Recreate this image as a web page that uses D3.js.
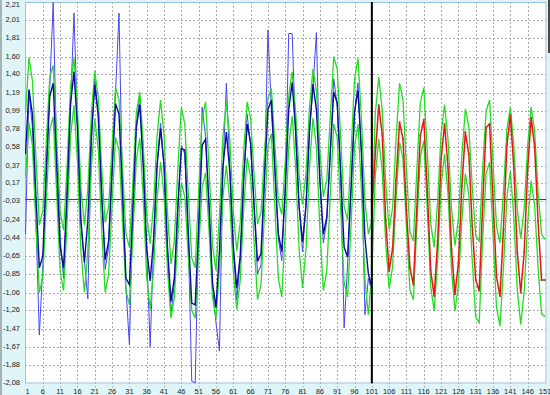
<!DOCTYPE html>
<html>
<head>
<meta charset="utf-8">
<script src="https://cdn.jsdelivr.net/npm/d3@7"></script>
<style>
  html, body { margin: 0; padding: 0; background: #e0f5f7; }
  svg { display: block; }
  text { font-family: "Liberation Sans Narrow", "Arial Narrow", "Liberation Sans", Arial, sans-serif; font-size: 7.5px; fill: #222; }
</style>
</head>
<body>
<div id="chart"></div>
<script>
// series oscillation chart: history (x 1..101) + forecast with bands (x 101..151)
const W = 550, H = 395;

const xTicks = [1, 6, 11, 16, 21, 26, 31, 36, 41, 46, 51, 56, 61, 66, 71, 76,
  81, 86, 91, 96, 101, 106, 111, 116, 121, 126, 131, 136, 141, 146, 151];
const yTickLabels = ["2,21", "2,01", "1,81", "1,60", "1,40", "1,19", "0,99", "0,78",
  "0,58", "0,37", "0,17", "-0,03", "-0,24", "-0,44", "-0,65", "-0,85", "-1,06",
  "-1,26", "-1,47", "-1,67", "-1,88", "-2,08"];

// actual values, x = 1..101 (light blue)
const actual = [
  -0.40, 1.19, 0.80, -0.25, -1.54, -0.75, 0.30, 1.25, 2.21, 0.50,
  -0.45, -0.90, 0.10, 1.05, 2.09, 0.85, -0.30, -0.70, -1.13, 0.60,
  1.35, 0.95, 0.10, -0.80, -0.55, 0.35, 1.20, 2.09, 0.10, -1.00,
  -1.65, -0.10, 0.85, 1.15, 0.40, -0.60, -1.67, -0.50, 0.40, 0.85,
  0.35, -0.60, -1.30, -0.95, -0.05, 0.60, 0.50, -0.45, -2.06, -2.08,
  -0.30, 1.03, 0.70, -0.10, -1.00, -1.40, -1.72, 0.30, 1.30, 0.35,
  -0.55, -1.15, -0.70, 0.20, 0.95, 0.60, -0.10, -0.85, -0.75, 0.20,
  1.90, 1.00, 0.30, -0.45, -0.70, 0.10, 1.86, 1.86, 0.70, -0.10,
  -0.60, -0.05, 0.75, 1.25, 1.87, 0.20, -0.50, -0.25, 0.50, 1.35,
  1.05, 0.30, -1.46, -0.75, 0.10, 0.95, 1.30, 0.50, -1.31, -0.90,
  -1.05
];

// model output, x = 1..101 (dark blue)
const fitted = [
  0.50, 1.23, 0.95, 0.04, -0.78, -0.65, 0.30, 1.15, 1.30, 0.38,
  -0.54, -0.78, 0.04, 1.06, 1.43, 0.79, -0.24, -0.72, -0.25, 0.70,
  1.28, 0.94, 0.02, -0.69, -0.48, 0.31, 1.07, 0.95, 0.07, -0.90,
  -0.97, -0.12, 0.80, 1.06, 0.37, -0.56, -0.93, -0.45, 0.37, 0.79,
  0.38, -0.55, -1.16, -0.89, -0.10, 0.56, 0.55, -0.39, -1.18, -1.20,
  -0.33, 0.60, 0.67, -0.08, -0.95, -1.23, -0.59, 0.35, 0.75, 0.30,
  -0.54, -1.01, -0.65, 0.22, 0.84, 0.63, -0.08, -0.71, -0.62, 0.23,
  1.00, 1.11, 0.35, -0.40, -0.60, 0.11, 1.00, 1.31, 0.77, -0.09,
  -0.49, -0.08, 0.77, 1.29, 1.00, 0.21, -0.40, -0.21, 0.52, 1.20,
  1.08, 0.29, -0.55, -0.66, 0.13, 0.98, 1.22, 0.52, -0.44, -0.85,
  -1.00
];

// upper band, x = 1..151 (green)
const upper = [
  0.96, 1.59, 1.33, 0.47, -0.30, -0.14, 0.63, 1.37, 1.50, 0.68,
  -0.15, -0.36, 0.36, 1.26, 1.58, 1.02, 0.12, -0.30, 0.11, 0.94,
  1.44, 1.14, 0.34, -0.27, -0.09, 0.59, 1.25, 1.11, 0.36, -0.40,
  -0.55, 0.18, 0.97, 1.20, 0.61, -0.19, -0.51, -0.06, 0.71, 1.11,
  0.72, -0.16, -0.74, -0.47, 0.35, 1.03, 0.84, 0.05, -0.67, -0.78,
  0.09, 0.91, 1.09, 0.34, -0.53, -0.81, -0.20, 0.70, 1.09, 0.66,
  -0.14, -0.59, -0.27, 0.53, 1.09, 0.90, 0.27, -0.29, -0.15, 0.50,
  1.13, 1.24, 0.61, -0.02, -0.18, 0.41, 1.16, 1.43, 0.98, 0.27,
  -0.07, 0.29, 1.02, 1.46, 1.21, 0.54, 0.02, 0.21, 0.92, 1.60,
  1.46, 0.69, -0.09, -0.24, 0.52, 1.34, 1.58, 0.90, -0.03, -0.40,
  -0.25, 0.96, 1.37, 1.00, 0.19, -0.35, -0.10, 0.67, 1.30, 1.11,
  0.33, -0.38, -0.48, 0.33, 1.08, 1.25, 0.54, -0.28, -0.55, -0.03,
  0.73, 1.06, 0.66, -0.11, -0.53, -0.23, 0.49, 1.01, 0.81, 0.13,
  -0.42, -0.48, 0.34, 0.99, 1.11, 0.40, -0.32, -0.50, 0.07, 0.78,
  1.03, 0.59, -0.12, -0.45, -0.11, 0.60, 1.03, 0.77, 0.08, -0.40,
  -0.46
];

// lower band, x = 1..151 (green)
const lower = [
  0.24, 0.86, 0.60, -0.28, -1.06, -0.88, -0.04, 0.78, 0.92, 0.05,
  -0.82, -1.04, -0.27, 0.70, 1.05, 0.42, -0.59, -1.06, -0.60, 0.33,
  0.90, 0.56, -0.36, -1.06, -0.85, -0.07, 0.69, 0.55, -0.24, -1.04,
  -1.20, -0.41, 0.44, 0.68, 0.01, -0.89, -1.25, -0.79, 0.00, 0.41,
  0.04, -0.80, -1.35, -1.11, -0.41, 0.18, 0.02, -0.65, -1.26, -1.35,
  -0.58, 0.13, 0.29, -0.36, -1.11, -1.35, -0.80, 0.02, 0.37, -0.04,
  -0.82, -1.25, -0.92, -0.11, 0.46, 0.24, -0.49, -1.14, -0.97, -0.17,
  0.60, 0.73, -0.09, -0.90, -1.11, -0.36, 0.59, 0.93, 0.35, -0.57,
  -1.01, -0.56, 0.35, 0.91, 0.57, -0.34, -1.04, -0.81, 0.03, 0.84,
  0.69, -0.12, -0.95, -1.11, -0.30, 0.59, 0.84, 0.10, -0.91, -1.31,
  -0.85, 0.26, 0.67, 0.31, -0.49, -1.02, -0.77, 0.00, 0.63, 0.45,
  -0.33, -1.03, -1.14, -0.30, 0.47, 0.65, -0.11, -0.99, -1.27, -0.70,
  0.14, 0.50, 0.05, -0.80, -1.27, -0.97, -0.24, 0.28, 0.05, -0.71,
  -1.34, -1.40, -0.46, 0.28, 0.41, -0.41, -1.23, -1.44, -0.79, 0.02,
  0.31, -0.21, -1.03, -1.42, -1.04, -0.27, 0.20, -0.07, -0.78, -1.30,
  -1.33
];

// forecast, x = 101..151 (red)
const forecastStart = 101;
const forecast = [
  -0.15, 0.50, 1.05, 0.72, -0.24, -0.82, -0.56, 0.21, 0.86, 0.67,
  -0.13, -0.78, -0.97, -0.10, 0.71, 0.89, 0.11, -0.81, -1.10, -0.48,
  0.44, 0.84, 0.35, -0.57, -1.08, -0.73, 0.14, 0.75, 0.50, -0.31,
  -0.92, -1.04, -0.07, 0.80, 0.84, -0.02, -0.88, -1.10, -0.35, 0.60,
  0.94, 0.34, -0.61, -1.06, -0.60, 0.34, 0.91, 0.59, -0.26, -0.92,
  -0.92
];

const svg = d3.select("#chart").append("svg").attr("width", W).attr("height", H);

// outer frame bits
svg.append("rect").attr("width", W).attr("height", H).attr("fill", "#e0f5f7");
svg.append("rect").attr("x", 0).attr("y", 0).attr("width", 2).attr("height", H).attr("fill", "#a6b3b4");
svg.append("rect").attr("x", 548).attr("y", 0).attr("width", 2).attr("height", 53).attr("fill", "#4a4a4a");

const x = d3.scaleLinear().domain([1, 151]).range([25.5, 545]);
const y = d3.scaleLinear().domain([-2.08, 2.21]).range([383, 2.5]);
const yVal = s => +s.replace(",", ".");

const pL = 25, pR = 546.5, pT = 2, pB = 383.5;

svg.append("rect")
  .attr("x", pL).attr("y", pT)
  .attr("width", pR - pL).attr("height", pB - pT)
  .attr("fill", "#fff");

svg.append("clipPath").attr("id", "clip")
  .append("rect").attr("x", pL).attr("y", pT)
  .attr("width", pR - pL).attr("height", pB - pT);

// dashed grid
const grid = svg.append("g")
  .attr("stroke", "#ababab").attr("stroke-width", 1).attr("stroke-dasharray", "2,2");
grid.selectAll(".gy").data(yTickLabels.slice(1, -1)).join("line")
  .attr("x1", pL).attr("x2", pR)
  .attr("y1", d => Math.round(y(yVal(d))) + 0.5)
  .attr("y2", d => Math.round(y(yVal(d))) + 0.5);
grid.selectAll(".gx").data(xTicks.slice(1, -1)).join("line")
  .attr("x1", d => Math.round(x(d)) + 0.5).attr("x2", d => Math.round(x(d)) + 0.5)
  .attr("y1", pT).attr("y2", pB + 4);

// border
svg.append("rect")
  .attr("x", pL + 0.5).attr("y", pT + 0.5)
  .attr("width", pR - pL - 1).attr("height", pB - pT - 1)
  .attr("fill", "none").attr("stroke", "#9cc0d6").attr("stroke-width", 1);

// tick labels
svg.append("g").selectAll("text").data(yTickLabels).join("text")
  .attr("x", 20).attr("y", d => Math.max(y(yVal(d)), 5))
  .attr("text-anchor", "end").attr("dominant-baseline", "middle")
  .text(d => d);
svg.append("g").selectAll("text").data(xTicks).join("text")
  .attr("x", d => x(d) + (d === 1 ? 2 : 0)).attr("y", 393.5)
  .attr("text-anchor", "middle")
  .text(d => d);

const layer = svg.append("g").attr("clip-path", "url(#clip)");

// zero line
layer.append("line")
  .attr("x1", pL).attr("x2", pR)
  .attr("y1", Math.round(y(0)) + 0.5).attr("y2", Math.round(y(0)) + 0.5)
  .attr("stroke", "#3a3a8c").attr("stroke-width", 1);

const lineFrom = (start) => d3.line().x((d, i) => x(start + i)).y(d => y(d));

layer.append("path").datum(actual)
  .attr("d", lineFrom(1)).attr("fill", "none")
  .attr("stroke", "#4646f0").attr("stroke-width", 1);

[upper, lower].forEach(s => {
  layer.append("path").datum(s)
    .attr("d", lineFrom(1)).attr("fill", "none")
    .attr("stroke", "#22dd22").attr("stroke-width", 1.3);
});

layer.append("path").datum(fitted)
  .attr("d", lineFrom(1)).attr("fill", "none")
  .attr("stroke", "#0c0ca0").attr("stroke-width", 1.4);

layer.append("path").datum(forecast)
  .attr("d", lineFrom(forecastStart)).attr("fill", "none")
  .attr("stroke", "#e81414").attr("stroke-width", 1.5);
layer.append("g").selectAll("circle").data(forecast).join("circle")
  .attr("cx", (d, i) => x(forecastStart + i)).attr("cy", d => y(d))
  .attr("r", 1.1).attr("fill", "#a04848");

// history / forecast divider
layer.append("line")
  .attr("x1", x(forecastStart)).attr("x2", x(forecastStart))
  .attr("y1", pT).attr("y2", pB)
  .attr("stroke", "#000").attr("stroke-width", 2);
</script>
</body>
</html>
